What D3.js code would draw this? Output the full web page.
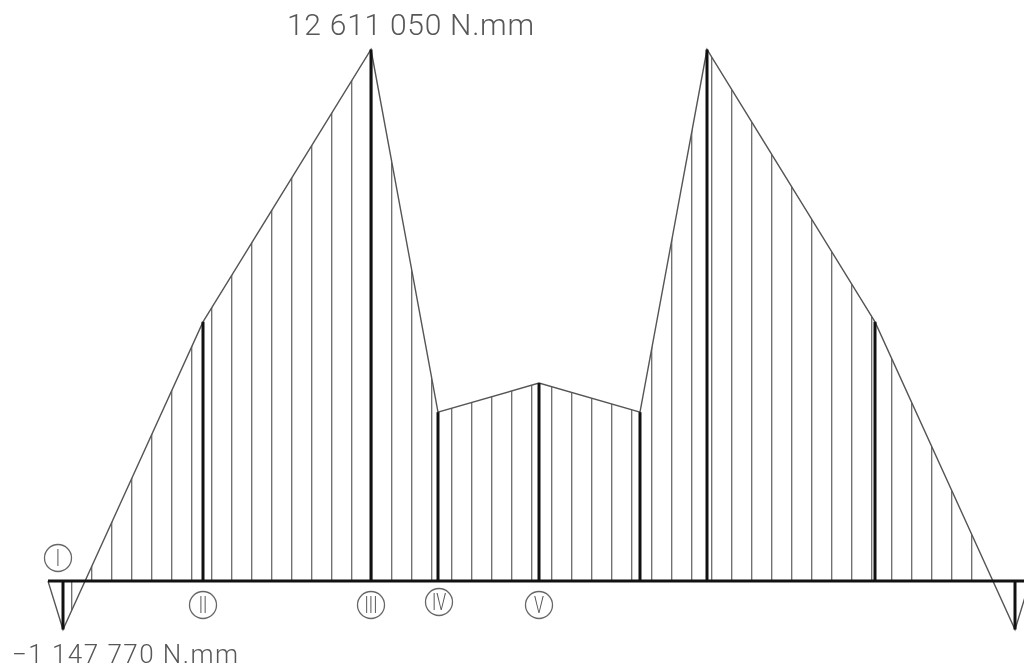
<!DOCTYPE html>
<html>
<head>
<meta charset="utf-8">
<script src="https://cdn.jsdelivr.net/npm/d3@7"></script>
<style>
  html, body { margin: 0; padding: 0; background: #fff; }
  svg { display: block; }
  text { font-family: Roboto, "DejaVu Sans", sans-serif; font-weight: 300; fill: #555; }
  .lbl { opacity: 0.99; will-change: transform; }
</style>
</head>
<body>
<svg id="chart" width="1024" height="671"></svg>
<script>
// Bending moment along the shaft: station positions (mm) and moments (N.mm)
const stations = [0, 15, 155, 323, 390, 491, 592, 659, 827, 967, 982];
const moments  = [0, -1147770, 6150000, 12611050, 4008000, 4698000, 4008000, 12611050, 6150000, -1147770, 0];

// Marked sections (thick ordinates) and their circled labels
const sectionStations = [15, 155, 323, 390, 491, 592, 659, 827, 967];
const sectionMoments  = [-1147770, 6150000, 12611050, 4008000, 4698000, 4008000, 12611050, 6150000, -1147770];
const sectionNames    = ["I", "II", "III", "IV", "V"];
const sectionNameAt   = [15, 155, 323, 390, 491];

// Extreme values written on the diagram
const maxLabel = "12  611  050  N.mm";
const minLabel = "\u22121  147  770  N.mm";

const svg = d3.select("#chart");

const x = d3.scaleLinear().domain([0, 976]).range([48, 1024]);
const y = d3.scaleLinear().domain([-1147770, 12611050]).range([629.5, 49.5]);

const pts = stations.map((s, i) => [x(s), y(moments[i])]);

// clip area = moment diagram
svg.append("clipPath").attr("id", "diagram")
  .append("path")
  .attr("d", d3.line()(pts) + "Z");

// hatching ordinates, every 20 mm
const hatch = d3.range(23.7, 930, 20);
svg.append("g").attr("clip-path", "url(#diagram)")
  .selectAll("line").data(hatch).join("line")
  .attr("x1", d => x(d)).attr("x2", d => x(d))
  .attr("y1", 0).attr("y2", 671)
  .attr("stroke", "#6a6a6a").attr("stroke-width", 1.3);

// outline
svg.append("path")
  .attr("d", d3.line()(pts))
  .attr("fill", "none")
  .attr("stroke", "#555")
  .attr("stroke-width", 1.4);

// section ordinates
svg.append("g").selectAll("line").data(sectionStations).join("line")
  .attr("x1", d => x(d)).attr("x2", d => x(d))
  .attr("y1", y(0))
  .attr("y2", (d, i) => y(sectionMoments[i]))
  .attr("stroke", "#111").attr("stroke-width", 3);

// beam axis
svg.append("line")
  .attr("x1", x(0)).attr("x2", 1024)
  .attr("y1", y(0)).attr("y2", y(0))
  .attr("stroke", "#111").attr("stroke-width", 3);

// circled section names
const labelY = [558, 605, 605, 602, 605];
const labelDx = [-5, 0, 0, 1, 0];
const tags = svg.append("g").attr("class", "lbl")
  .selectAll("g").data(sectionNames).join("g")
  .attr("transform", (d, i) => `translate(${x(sectionNameAt[i]) + labelDx[i]},${labelY[i]})`);
tags.append("circle")
  .attr("r", 13.5)
  .attr("fill", "#fff")
  .attr("stroke", "#666")
  .attr("stroke-width", 1.3);
tags.append("text")
  .attr("text-anchor", "middle")
  .attr("dy", "0.36em")
  .attr("font-size", 23)
  .attr("font-weight", 200)
  .attr("transform", "scale(0.7,1)")
  .text(d => d);

// extreme values
const values = svg.append("g").attr("class", "lbl");
values.append("text")
  .attr("x", 287).attr("y", 35)
  .attr("font-size", 30)
  .attr("textLength", 247)
  .attr("lengthAdjust", "spacing")
  .text(maxLabel);

values.append("text")
  .attr("x", 12).attr("y", 663)
  .attr("font-size", 26)
  .attr("textLength", 226)
  .attr("lengthAdjust", "spacing")
  .text(minLabel);
</script>
</body>
</html>
